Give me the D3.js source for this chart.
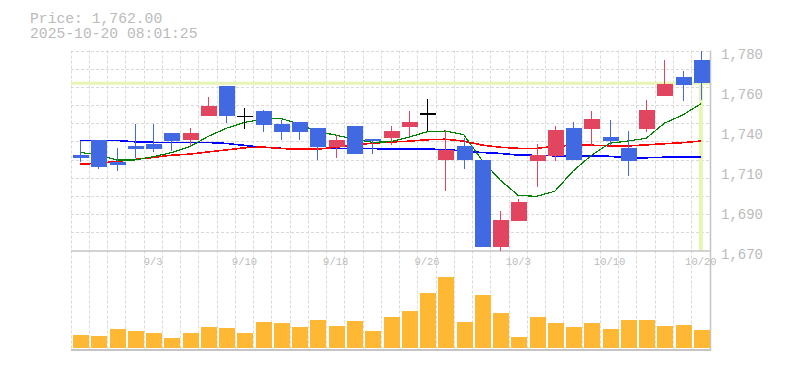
<html>
<head>
<script src="https://cdnjs.cloudflare.com/ajax/libs/d3/7.8.5/d3.min.js"></script>
<style>
  body { margin: 0; background: #fff; }
  text { font-family: "Liberation Mono", "DejaVu Sans Mono", monospace; }
</style>
</head>
<body>
<script>

// ---- data ----
var dates = ["8/28","8/29","9/1","9/2","9/3","9/4","9/5","9/8","9/9","9/10",
             "9/11","9/12","9/16","9/17","9/18","9/19","9/22","9/24","9/25","9/26",
             "9/29","9/30","10/1","10/2","10/3","10/6","10/7","10/8","10/9","10/10",
             "10/14","10/15","10/16","10/17","10/20"];

var opens  = [1722.5,1730.6,1718.8,1727.5,1728.6,1734.6,1730.8,1744.0,1760.5,1744.0,
              1746.7,1739.6,1740.7,1737.4,1726.9,1738.5,1731.3,1731.9,1737.9,1745.5,
              1719.8,1727.5,1719.8,1671.9,1686.2,1719.2,1722.0,1737.4,1736.8,1732.4,
              1726.4,1736.8,1755.0,1765.4,1774.8];
var highs  = [1730.4,1730.6,1726.4,1739.6,1739.6,1734.6,1737.4,1754.6,1760.5,1748.4,
              1747.3,1741.8,1740.7,1737.4,1733.5,1738.5,1731.3,1738.5,1746.7,1753.3,
              1736.3,1731.7,1719.8,1691.7,1698.3,1728.6,1738.5,1740.7,1746.7,1741.8,
              1735.7,1752.8,1774.8,1768.7,1779.7];
var lows   = [1718.5,1714.8,1713.7,1720.7,1724.0,1724.7,1727.5,1744.0,1740.3,1737.0,
              1735.2,1730.8,1730.8,1719.8,1720.9,1723.1,1723.1,1728.0,1733.0,1735.7,
              1702.7,1714.8,1671.9,1670.0,1686.2,1704.9,1719.2,1719.8,1727.5,1727.5,
              1711.0,1735.2,1755.0,1752.2,1752.8];
var closes = [1721.0,1716.1,1717.0,1725.8,1725.8,1730.2,1734.6,1749.5,1744.1,1744.0,
              1739.0,1735.2,1735.2,1726.9,1730.8,1723.1,1730.2,1735.7,1740.7,1745.5,
              1725.3,1719.8,1671.9,1686.8,1696.7,1722.5,1736.3,1719.8,1742.3,1730.2,
              1719.2,1747.3,1761.6,1761.0,1762.0];

// moving averages (green / red / blue)
var maShort = [1724.0,1722.5,1719.8,1719.8,1721.6,1723.8,1727.1,1732.7,1737.2,1740.5,
               1742.2,1742.6,1739.6,1735.3,1733.5,1731.2,1729.5,1729.8,1732.3,1735.3,
               1735.7,1733.8,1719.8,1708.8,1700.3,1699.8,1702.6,1713.7,1722.3,1729.0,
               1730.2,1731.7,1740.0,1744.5,1750.7];
var maMid   = [1717.4,1718.0,1719.0,1720.1,1721.2,1722.4,1723.0,1724.2,1725.3,1726.5,
               1726.9,1726.1,1725.7,1725.7,1726.8,1728.0,1729.0,1729.7,1730.1,1730.9,
               1731.2,1730.2,1728.0,1726.8,1726.2,1726.2,1727.3,1727.9,1727.9,1727.6,
               1727.5,1728.1,1728.7,1729.3,1730.2];
var maLong  = [1730.6,1730.6,1730.5,1729.8,1729.5,1729.5,1729.5,1729.4,1728.9,1727.8,
               1726.8,1726.2,1726.0,1726.0,1726.1,1726.2,1726.1,1725.7,1725.7,1725.7,
               1725.6,1724.7,1723.9,1723.4,1722.5,1722.3,1722.1,1722.0,1722.0,1721.8,
               1721.0,1721.0,1721.3,1721.4,1721.4];

// volume, thousand shares
var volumes = [127,117,187,167,147,97,147,207,197,147,
               257,247,207,277,217,267,167,307,367,547,
               707,257,527,347,107,307,247,207,247,187,
               277,277,217,227,177];

var xTickLabels = ["9/3","9/10","9/18","9/26","10/3","10/10","10/20"];
var yTickValues = [1670,1692,1714,1736,1758,1780];
var yTickLabels = ["1,670","1,690","1,710","1,740","1,760","1,780"];
var stamp = "2025-10-20 08:01:25";

// ---- layout ----
var viz = { width: 785, height: 370 };
var left = 71, right = 710;
var priceTop = 50.5, priceBottom = 250.5;
var volTop = 270, volBottom = 348;

var svg = d3.select("body").append("svg")
    .attr("width", viz.width)
    .attr("height", viz.height);

var x = d3.scaleBand().domain(dates).range([left, right]).padding(0);
var y = d3.scaleLinear().domain([1670, 1780]).range([priceBottom, priceTop]);
var yv = d3.scaleLinear().domain([0, 780]).range([volBottom, volTop]);
var cx = function(d) { return x(d) + x.bandwidth() / 2; };
var bodyW = 16;

var gridColor = "#d9d9d9";

// horizontal grid, every 10 yen
svg.append("g").selectAll("line")
    .data(d3.range(1680, 1781, 10))
    .enter().append("line")
    .attr("x1", left).attr("x2", right)
    .attr("y1", function(d) { return Math.round(y(d)) + 0.5; })
    .attr("y2", function(d) { return Math.round(y(d)) + 0.5; })
    .attr("stroke", gridColor)
    .attr("stroke-dasharray", "3,2");

// vertical grid at day boundaries
svg.append("g").selectAll("line")
    .data(dates)
    .enter().append("line")
    .attr("x1", function(d) { return Math.floor(x(d)) + 0.5; })
    .attr("x2", function(d) { return Math.floor(x(d)) + 0.5; })
    .attr("y1", priceTop).attr("y2", 350)
    .attr("stroke", gridColor)
    .attr("stroke-dasharray", "3,2");

// current price marker
var last = dates.length - 1;
var hiColor = "#e6f5b3";
svg.append("line")
    .attr("x1", left).attr("x2", right)
    .attr("y1", y(closes[last])).attr("y2", y(closes[last]))
    .attr("stroke", hiColor).attr("stroke-width", 3);
svg.append("line")
    .attr("x1", cx(dates[last])).attr("x2", cx(dates[last]))
    .attr("y1", y(closes[last])).attr("y2", priceBottom)
    .attr("stroke", hiColor).attr("stroke-width", 4);

// frame lines
svg.append("line")
    .attr("x1", left).attr("x2", right + 1)
    .attr("y1", 251).attr("y2", 251)
    .attr("stroke", "#c4c4c4").attr("stroke-width", 1.5);
svg.append("line")
    .attr("x1", left).attr("x2", right + 1)
    .attr("y1", 350).attr("y2", 350)
    .attr("stroke", "#c4c4c4").attr("stroke-width", 2);
svg.append("line")
    .attr("x1", right + 0.5).attr("x2", right + 0.5)
    .attr("y1", priceTop).attr("y2", 351)
    .attr("stroke", "#c4c4c4").attr("stroke-width", 1.5);

// moving averages
var maLine = function(vals) {
    return d3.line()
        .x(function(d, i) { return cx(dates[i]); })
        .y(function(d) { return y(d); })(vals);
};
[[maLong, "#0000ff", 1.6], [maMid, "#ff0000", 1.6], [maShort, "#008000", 1.2]].forEach(function(m) {
    svg.append("path")
        .attr("d", maLine(m[0]))
        .attr("fill", "none")
        .attr("stroke", m[1])
        .attr("stroke-width", m[2])
        .attr("shape-rendering", "crispEdges");
});

// candles
var upColor = "#e2455f", downColor = "#4169e1";
var candleColor = function(i) {
    if (closes[i] > opens[i]) return upColor;
    if (closes[i] < opens[i]) return downColor;
    return "#000";
};

var candles = svg.append("g").selectAll("g")
    .data(dates)
    .enter().append("g");

candles.append("line")
    .attr("x1", function(d) { return Math.round(cx(d)) + 0.5; })
    .attr("x2", function(d) { return Math.round(cx(d)) + 0.5; })
    .attr("y1", function(d, i) { return y(highs[i]); })
    .attr("y2", function(d, i) { return y(lows[i]); })
    .attr("stroke", function(d, i) { return candleColor(i); })
    .attr("stroke-width", 1.3)
    .attr("shape-rendering", "crispEdges");

candles.append("rect")
    .attr("x", function(d) { return Math.round(cx(d)) + 0.5 - bodyW / 2; })
    .attr("width", bodyW)
    .attr("y", function(d, i) { return y(Math.max(opens[i], closes[i])); })
    .attr("height", function(d, i) { return Math.max(1.5, Math.abs(y(opens[i]) - y(closes[i]))); })
    .attr("fill", function(d, i) { return candleColor(i); })
    .attr("shape-rendering", "crispEdges");

// volume bars
svg.append("g").selectAll("rect")
    .data(volumes)
    .enter().append("rect")
    .attr("x", function(d, i) { return Math.round(cx(dates[i])) + 0.5 - bodyW / 2; })
    .attr("width", bodyW)
    .attr("y", function(d) { return yv(d); })
    .attr("height", function(d) { return volBottom - yv(d); })
    .attr("fill", "#feb834")
    .attr("shape-rendering", "crispEdges");

// right price axis
var yAxis = svg.append("g")
    .attr("transform", "translate(" + right + ",0)")
    .call(d3.axisRight(y)
        .tickValues(yTickValues)
        .tickFormat(function(d, i) { return yTickLabels[i]; })
        .tickSize(0)
        .tickPadding(11));
yAxis.select(".domain").remove();
yAxis.selectAll("text")
    .attr("dy", "0.55em")
    .attr("fill", "#bbbbbb")
    .style("font-family", "'Liberation Mono', monospace")
    .style("font-size", "14px");

// date axis between the panels
var xAxis = svg.append("g")
    .attr("transform", "translate(0," + priceBottom + ")")
    .call(d3.axisBottom(x)
        .tickValues(xTickLabels)
        .tickSize(0)
        .tickPadding(7));
xAxis.select(".domain").remove();
xAxis.selectAll("text")
    .attr("fill", "#bbbbbb")
    .style("font-family", "'Liberation Mono', monospace")
    .style("font-size", "10.5px");

// header
svg.append("text")
    .attr("x", 30).attr("y", 22.5)
    .attr("fill", "#bbbbbb")
    .style("font-size", "14.7px")
    .text("Price: " + d3.format(",.2f")(closes[last]));
svg.append("text")
    .attr("x", 30).attr("y", 37.5)
    .attr("fill", "#bbbbbb")
    .style("font-size", "14.7px")
    .text(stamp);

</script>
</body>
</html>
